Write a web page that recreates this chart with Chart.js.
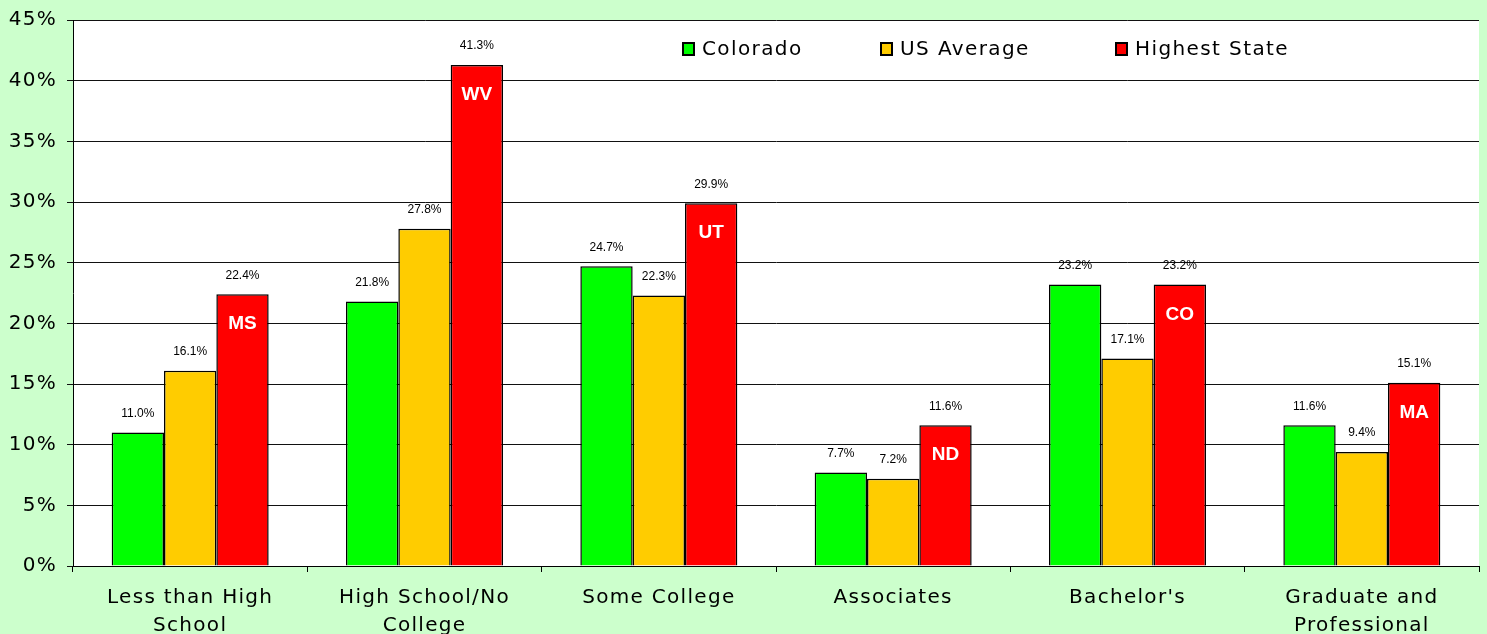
<!DOCTYPE html>
<html>
<head>
<meta charset="utf-8">
<script src="https://cdn.jsdelivr.net/npm/chart.js@4.4.1/dist/chart.umd.min.js"></script>
<style>
  html, body { margin: 0; padding: 0; background: #CCFFCC; }
  canvas { display: block; }
</style>
</head>
<body>
<canvas id="chart" width="1487" height="634"></canvas>
<script>
// Data
const categories = [
  ['Less than High', 'School'],
  ['High School/No', 'College'],
  'Some College',
  'Associates',
  "Bachelor's",
  ['Graduate and', 'Professional']
];
const colorado = [11.0, 21.8, 24.7, 7.7, 23.2, 11.6];
const usAverage = [16.1, 27.8, 22.3, 7.2, 17.1, 9.4];
const highestState = [22.4, 41.3, 29.9, 11.6, 23.2, 15.1];
const highestStateNames = ['MS', 'WV', 'UT', 'ND', 'CO', 'MA'];
const seriesNames = ['Colorado', 'US Average', 'Highest State'];

const AXIS_FONT = 'DejaVu Sans';
const SPACING = '1.3px';

// white plot area on the green page, wide letter spacing for axis text
const plotBackground = {
  id: 'plotBackground',
  beforeLayout: (chart) => { chart.ctx.letterSpacing = SPACING; },
  beforeDraw: (chart) => {
    const { ctx, chartArea } = chart;
    ctx.letterSpacing = SPACING;
    ctx.save();
    ctx.fillStyle = '#FFFFFF';
    ctx.fillRect(chartArea.left, chartArea.top, chartArea.right - chartArea.left, chartArea.bottom - chartArea.top);
    ctx.restore();
  }
};

// value labels above bars and state codes inside red bars
const barLabels = {
  id: 'barLabels',
  afterDatasetsDraw: (chart) => {
    const { ctx } = chart;
    ctx.save();
    ctx.letterSpacing = '0px';
    ctx.textAlign = 'center';
    ctx.textBaseline = 'middle';
    chart.data.datasets.forEach((ds, di) => {
      const meta = chart.getDatasetMeta(di);
      meta.data.forEach((bar, i) => {
        ctx.fillStyle = '#000000';
        ctx.font = '12px "Liberation Sans", Arial, sans-serif';
        ctx.fillText(ds.data[i].toFixed(1) + '%', bar.x, bar.y - 19);
        if (di === 2) {
          ctx.fillStyle = '#FFFFFF';
          ctx.font = 'bold 19px "Liberation Sans", Arial, sans-serif';
          ctx.fillText(highestStateNames[i], bar.x, bar.y + 30);
        }
      });
    });
    ctx.restore();
  }
};

// legend drawn inside the plot area, top right
const insideLegend = {
  id: 'insideLegend',
  afterDraw: (chart) => {
    const { ctx } = chart;
    const xs = [683, 881, 1116];
    const y = 49;
    ctx.save();
    ctx.letterSpacing = '1.4px';
    ctx.font = '20px "' + AXIS_FONT + '"';
    ctx.textBaseline = 'middle';
    ctx.textAlign = 'left';
    chart.data.datasets.forEach((ds, i) => {
      ctx.fillStyle = ds.backgroundColor;
      ctx.fillRect(xs[i], y - 6, 11, 12);
      ctx.strokeStyle = '#000000';
      ctx.lineWidth = 2;
      ctx.strokeRect(xs[i], y - 6, 11, 12);
      ctx.fillStyle = '#000000';
      ctx.fillText(ds.label, xs[i] + 19, y + 1);
    });
    ctx.restore();
  }
};

const barStyle = { borderColor: '#000000', borderWidth: 1.5, barPercentage: 1.0, categoryPercentage: 0.67 };

new Chart(document.getElementById('chart').getContext('2d'), {
  type: 'bar',
  data: {
    labels: categories,
    datasets: [
      Object.assign({ label: seriesNames[0], data: colorado, backgroundColor: '#00FF00' }, barStyle),
      Object.assign({ label: seriesNames[1], data: usAverage, backgroundColor: '#FFCC00' }, barStyle),
      Object.assign({ label: seriesNames[2], data: highestState, backgroundColor: '#FF0000' }, barStyle)
    ]
  },
  options: {
    responsive: false,
    animation: false,
    layout: { padding: { top: 19, right: 8, left: 0, bottom: 0 } },
    plugins: {
      legend: { display: false },
      tooltip: { enabled: false }
    },
    scales: {
      x: {
        grid: { display: true, offset: true, drawOnChartArea: false, drawTicks: true, tickLength: 6, color: '#000000' },
        border: { color: '#000000', width: 1 },
        ticks: {
          color: '#000000',
          padding: 12,
          maxRotation: 0,
          autoSkip: false,
          font: { family: AXIS_FONT, size: 20, lineHeight: 1.4 }
        },
        afterFit: (scale) => { scale.height = 68; }
      },
      y: {
        min: 0,
        max: 45,
        grid: { color: '#111111', lineWidth: 1, tickLength: 6 },
        border: { color: '#000000', width: 1 },
        ticks: {
          stepSize: 5,
          color: '#000000',
          padding: 10,
          font: { family: AXIS_FONT, size: 20, lineHeight: 1 },
          callback: (v) => v + '%'
        },
        afterFit: (scale) => { scale.width = 73; }
      }
    }
  },
  plugins: [plotBackground, barLabels, insideLegend]
});
</script>
</body>
</html>
